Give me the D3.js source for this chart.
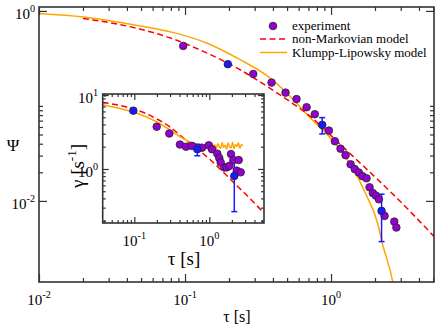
<!DOCTYPE html>
<html>
<head>
<meta charset="utf-8">
<script src="https://cdn.jsdelivr.net/npm/d3@7"></script>
<style>
  body { margin: 0; background: #fff; }
  svg text { font-family: "Liberation Serif", "DejaVu Serif", serif; fill: #000; }
</style>
</head>
<body>
<div id="chart"></div>
<script>
// ---- main plot: Psi(tau) ----
const expTau = [0.0972, 0.2932, 0.3914, 0.488, 0.580, 0.680, 0.774, 0.966, 1.062, 1.161, 1.257, 1.361,
  1.455, 1.55, 1.643, 1.75, 1.835, 1.933, 2.027, 2.125, 2.325, 2.71, 2.80];
const expPsi = [0.428, 0.217, 0.176, 0.138, 0.118, 0.0969, 0.0818, 0.0550, 0.0425, 0.0355, 0.0303, 0.0243,
  0.0216, 0.0199, 0.0182, 0.0173, 0.0139, 0.0121, 0.01137, 0.0104, 0.00695, 0.00605, 0.00524];
// points with error bars (blue)
const errTau = [0.1964, 0.870, 2.218];
const errPsi = [0.275, 0.0631, 0.00785];
const errPsiLo = [0.262, 0.0507, 0.00373];
const errPsiHi = [0.288, 0.0753, 0.01177];

const nmTau = [0.02, 0.0496, 0.0838, 0.1419, 0.240, 0.366, 0.528, 0.724, 1.103, 1.678, 2.556, 3.503, 5.07];
const nmPsi = [0.833, 0.642, 0.504, 0.359, 0.239, 0.160, 0.110, 0.0771, 0.0421, 0.0230, 0.01245, 0.00766, 0.00423];

const klTau = [0.01, 0.0202, 0.0496, 0.0838, 0.1419, 0.240, 0.366, 0.528, 0.724, 0.992, 1.360, 1.770, 2.072, 2.253, 2.650, 2.9];
const klPsi = [0.941, 0.865, 0.695, 0.591, 0.457, 0.305, 0.207, 0.125, 0.0742, 0.0457, 0.0239, 0.0110, 0.0060, 0.0035, 0.00139, 0.0006];

// ---- inset: gamma(tau) ----
const gTau = [0.1989, 0.293, 0.406, 0.489, 0.587, 0.80, 0.982, 1.086, 1.279, 1.36, 1.419, 1.585, 1.706,
  1.849, 1.946, 2.09, 2.466, 2.32, 2.62];
const gVal = [3.73, 3.02, 2.14, 2.00, 2.05, 1.94, 2.09, 1.85, 1.61, 1.40, 1.22, 1.05, 1.05,
  1.10, 1.59, 1.32, 1.32, 0.949, 0.902];
const gErrTau = [0.0970, 0.692, 2.154];
const gErrVal = [6.14, 1.85, 0.804];
const gErrLo = [5.75, 1.51, 0.265];
const gErrHi = [6.6, 2.16, 1.352];

const nmgTau = [0.0379, 0.0644, 0.1087, 0.1888, 0.299, 0.4325, 0.587, 0.751, 1.021, 1.39, 2.20, 3.49, 5.04, 5.36];
const nmgVal = [7.95, 7.21, 6.27, 4.89, 3.70, 2.71, 2.11, 1.75, 1.344, 1.0, 0.627, 0.399, 0.271, 0.255];

const klgTau = [0.0379, 0.0644, 0.1087, 0.1888, 0.299, 0.406, 0.553, 0.70,
  0.750, 0.785, 0.821, 0.859, 0.899, 0.941, 0.985, 1.031, 1.079, 1.129, 1.181, 1.236, 1.294, 1.354, 1.417,
  1.483, 1.552, 1.624, 1.699, 1.778, 1.861, 1.947, 2.038, 2.132, 2.232, 2.335, 2.444, 2.557, 2.676, 2.80];
const klgVal = [7.4, 6.57, 5.66, 4.45, 3.37, 2.73, 2.32, 2.13,
  2.08, 1.95, 2.15, 1.90, 2.10, 2.22, 1.88, 2.05, 2.25, 1.92, 2.12, 1.85, 2.20, 2.02, 1.90,
  2.28, 1.95, 2.10, 1.86, 2.24, 2.00, 1.92, 2.30, 1.88, 2.12, 2.02, 2.26, 1.90, 2.15, 2.05];

const legendLabels = ['experiment', 'non-Markovian model', 'Klumpp-Lipowsky model'];

const W = 436, H = 327;
const PURPLE = '#9400d3', BLUE = '#1a1aff', RED = '#ff0000', ORANGE = '#ffa500', AXIS = '#333';
const FONT = '"Liberation Serif", "DejaVu Serif", serif';

const svg = d3.select('#chart').append('svg')
  .attr('width', W)
  .attr('height', H)
  .attr('font-family', FONT);

const x = d3.scaleLog().domain([0.01, 5.07]).range([39, 434]);
const y = d3.scaleLog().domain([1.4e-3, 1.1]).range([282, 7]);
const xi = d3.scaleLog().domain([0.0379, 5.36]).range([102.7, 264]);
const yi = d3.scaleLog().domain([0.186, 10.32]).range([223, 94]);

const zip = (a, b) => a.map((v, i) => [v, b[i]]);

function addClip(id, xs, ys) {
  svg.append('clipPath').attr('id', id).append('rect')
    .attr('x', xs.range()[0]).attr('y', ys.range()[1])
    .attr('width', xs.range()[1] - xs.range()[0])
    .attr('height', ys.range()[0] - ys.range()[1]);
}
addClip('clipMain', x, y);
addClip('clipIn', xi, yi);

// inward ticks on all four sides
function frameTicks(g, xs, ys, xMaj, xMin, yMaj, yMin, big, small) {
  const [x0, x1] = xs.range(), [y0, y1] = ys.range();
  const sides = [
    [d3.axisBottom, xs, `translate(0,${y0})`, xMaj, xMin],
    [d3.axisTop, xs, `translate(0,${y1})`, xMaj, xMin],
    [d3.axisLeft, ys, `translate(${x0},0)`, yMaj, yMin],
    [d3.axisRight, ys, `translate(${x1},0)`, yMaj, yMin]
  ];
  sides.forEach(([mk, sc, tr, maj, min]) => {
    [[maj, big], [min, small]].forEach(([vals, len]) => {
      g.append('g')
        .attr('transform', tr)
        .style('color', AXIS)
        .call(mk(sc).tickValues(vals).tickSize(-len).tickSizeOuter(0).tickFormat(''))
        .call(s => s.select('.domain').remove())
        .selectAll('line').attr('stroke-width', 1.2);
    });
  });
  g.append('rect')
    .attr('x', x0).attr('y', y1)
    .attr('width', x1 - x0).attr('height', y0 - y1)
    .attr('fill', 'none').attr('stroke', AXIS).attr('stroke-width', 1.6);
}

function powLabel(g, px, py, exp, anchor, size) {
  const t = g.append('text')
    .attr('x', px).attr('y', py)
    .attr('text-anchor', anchor)
    .attr('font-family', FONT)
    .style('font-size', size + 'px');
  t.append('tspan').text('10');
  t.append('tspan').attr('dy', -0.45 * size).style('font-size', (size * 0.68) + 'px').text(exp);
}

function drawLine(g, xs, ys, tx, ty, color, dash, clip) {
  const line = d3.line().x(d => xs(d[0])).y(d => ys(d[1])).curve(d3.curveMonotoneX);
  g.append('path')
    .datum(zip(tx, ty))
    .attr('clip-path', `url(#${clip})`)
    .attr('d', line)
    .attr('fill', 'none')
    .attr('stroke', color)
    .attr('stroke-width', 1.5)
    .attr('stroke-dasharray', dash);
}

function drawErr(g, xs, ys, tx, ty, lo, hi) {
  tx.forEach((t, i) => {
    const cx = xs(t);
    g.append('line').attr('x1', cx).attr('x2', cx).attr('y1', ys(lo[i])).attr('y2', ys(hi[i]))
      .attr('stroke', BLUE).attr('stroke-width', 1.5);
    [lo[i], hi[i]].forEach(v => {
      g.append('line').attr('x1', cx - 3).attr('x2', cx + 3).attr('y1', ys(v)).attr('y2', ys(v))
        .attr('stroke', BLUE).attr('stroke-width', 1.5);
    });
  });
}

function drawPoints(g, xs, ys, tx, ty, fill) {
  g.selectAll(null)
    .data(zip(tx, ty))
    .enter().append('circle')
    .attr('cx', d => xs(d[0]))
    .attr('cy', d => ys(d[1]))
    .attr('r', 3.8)
    .attr('fill', fill)
    .attr('stroke', '#222')
    .attr('stroke-width', 0.8);
}

function label(g, px, py, size, txt) {
  return g.append('text').attr('x', px).attr('y', py)
    .attr('font-family', FONT)
    .style('font-size', size + 'px').text(txt);
}

// ---------- main plot ----------
const main = svg.append('g');
drawLine(main, x, y, klTau, klPsi, ORANGE, null, 'clipMain');
drawLine(main, x, y, nmTau, nmPsi, RED, '6,3.5', 'clipMain');
drawErr(main, x, y, errTau, errPsi, errPsiLo, errPsiHi);
drawPoints(main, x, y, expTau, expPsi, PURPLE);
drawPoints(main, x, y, errTau, errPsi, BLUE);

frameTicks(main, x, y,
  [0.01, 0.1, 1], [0.02, 0.03, 0.04, 0.05, 0.06, 0.07, 0.08, 0.09, 0.2, 0.3, 0.4, 0.5, 0.6, 0.7, 0.8, 0.9, 2, 3, 4, 5],
  [0.01, 1], [0.02, 0.03, 0.04, 0.05, 0.06, 0.07, 0.08, 0.09, 0.1],
  8, 4);

[[0.01, '-2'], [0.1, '-1'], [1, '0']].forEach(([v, e]) => powLabel(main, x(v), 305, e, 'middle', 15));
[[1, '0'], [0.01, '-2']].forEach(([v, e]) => powLabel(main, 35, y(v) + 8, e, 'end', 15));

label(main, 237, 322, 16, 'τ [s]').attr('text-anchor', 'middle');
label(main, 13, 151, 17, 'Ψ').attr('text-anchor', 'middle');

// legend
const leg = svg.append('g');
leg.append('circle').attr('cx', 273).attr('cy', 26).attr('r', 3.8)
  .attr('fill', PURPLE).attr('stroke', '#222').attr('stroke-width', 0.8);
leg.append('line').attr('x1', 260).attr('x2', 287).attr('y1', 39).attr('y2', 39)
  .attr('stroke', RED).attr('stroke-width', 1.5).attr('stroke-dasharray', '6,3.5');
leg.append('line').attr('x1', 260).attr('x2', 287).attr('y1', 52.5).attr('y2', 52.5)
  .attr('stroke', ORANGE).attr('stroke-width', 1.5);
legendLabels.forEach((t, i) => label(leg, 292, 29.5 + i * 13.5, 13, t));

// ---------- inset ----------
const inset = svg.append('g');
inset.append('rect')
  .attr('x', xi.range()[0]).attr('y', yi.range()[1])
  .attr('width', xi.range()[1] - xi.range()[0])
  .attr('height', yi.range()[0] - yi.range()[1])
  .attr('fill', '#fff');

drawLine(inset, xi, yi, nmgTau, nmgVal, RED, '6,3.5', 'clipIn');
drawLine(inset, xi, yi, klgTau, klgVal, ORANGE, null, 'clipIn');
drawErr(inset, xi, yi, gErrTau, gErrVal, gErrLo, gErrHi);
drawPoints(inset, xi, yi, gTau, gVal, PURPLE);
drawPoints(inset, xi, yi, gErrTau, gErrVal, BLUE);

frameTicks(inset, xi, yi,
  [0.1, 1], [0.04, 0.05, 0.06, 0.07, 0.08, 0.09, 0.2, 0.3, 0.4, 0.5, 0.6, 0.7, 0.8, 0.9, 2, 3, 4, 5],
  [1, 10], [0.2, 0.3, 0.4, 0.5, 0.6, 0.7, 0.8, 0.9, 2, 3, 4, 5, 6, 7, 8, 9],
  6, 3);

[[0.1, '-1'], [1, '0']].forEach(([v, e]) => powLabel(inset, xi(v), 246, e, 'middle', 15));
[[10, '1'], [1, '0']].forEach(([v, e]) => powLabel(inset, 98, yi(v) + 8, e, 'end', 15));

label(inset, 184, 265, 19, 'τ [s]').attr('text-anchor', 'middle');
const gl = inset.append('text')
  .attr('transform', 'translate(84,166) rotate(-90)')
  .attr('text-anchor', 'middle')
  .attr('font-family', FONT)
  .style('font-size', '19px');
gl.append('tspan').text('γ [s');
gl.append('tspan').attr('dy', -8).style('font-size', '13px').text('-1');
gl.append('tspan').attr('dy', 8).text(']');
</script>
</body>
</html>
